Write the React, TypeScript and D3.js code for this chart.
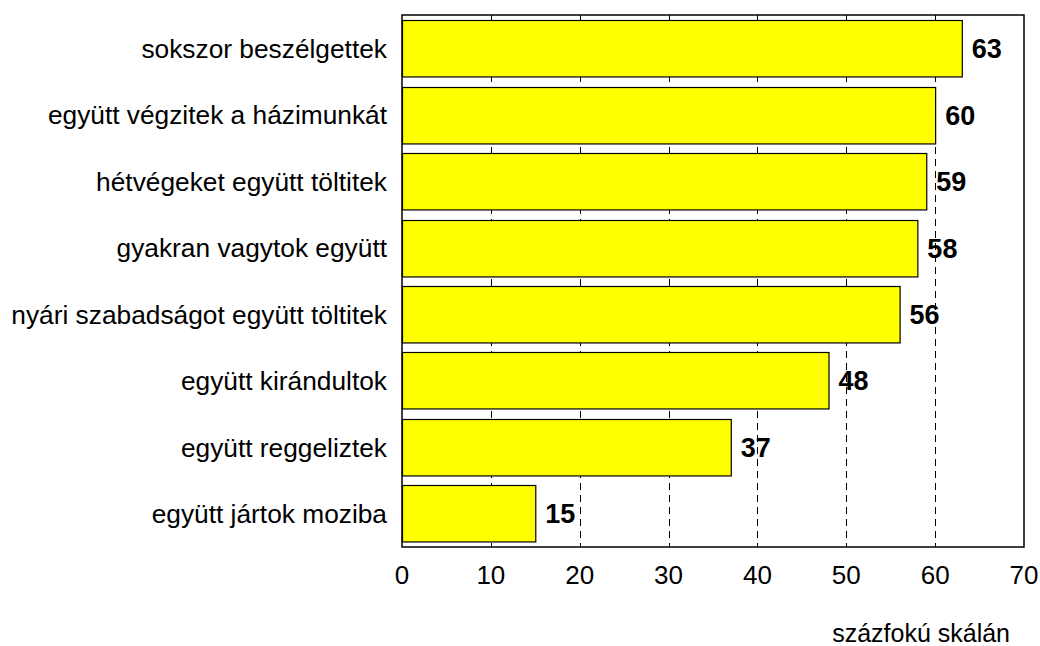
import React, { useEffect, useRef } from 'react';
import * as d3 from 'd3';

const categories = [
  'sokszor beszélgettek',
  'együtt végzitek a házimunkát',
  'hétvégeket együtt töltitek',
  'gyakran vagytok együtt',
  'nyári szabadságot együtt töltitek',
  'együtt kirándultok',
  'együtt reggeliztek',
  'együtt jártok moziba',
];
const values = [63, 60, 59, 58, 56, 48, 37, 15];
const ticks = [0, 10, 20, 30, 40, 50, 60, 70];
const axisTitle = 'százfokú skálán';

function App() {
  const svgRef = useRef<SVGSVGElement>(null);

  useEffect(() => {
    const width = 1040;
    const height = 646;
    const margin = { top: 15, right: 16, bottom: 99, left: 402 };
    const w = width - margin.left - margin.right;
    const h = height - margin.top - margin.bottom;
    const font = 'Arial, "Liberation Sans", sans-serif';

    const svg = d3.select(svgRef.current);
    svg.selectAll('*').remove();
    const g = svg.append('g').attr('transform', `translate(${margin.left},${margin.top})`);

    const x = d3.scaleLinear().domain([0, 70]).range([0, w]);
    const y = d3.scaleBand<string>().domain(categories).range([0, h])
      .paddingInner(0.15).paddingOuter(0.08);

    // gridlines
    g.selectAll('line.grid')
      .data(ticks.filter(t => t > 0 && t < 70))
      .join('line')
      .attr('class', 'grid')
      .attr('x1', d => Math.round(x(d)) + 0.5)
      .attr('x2', d => Math.round(x(d)) + 0.5)
      .attr('y1', 0)
      .attr('y2', h)
      .attr('stroke', '#000')
      .attr('stroke-width', 1)
      .attr('stroke-dasharray', '7,5');

    // bars
    g.selectAll('rect.bar')
      .data(values)
      .join('rect')
      .attr('class', 'bar')
      .attr('x', 0.5)
      .attr('y', (d, i) => Math.round(y(categories[i])!) + 0.5)
      .attr('width', d => x(d))
      .attr('height', y.bandwidth())
      .attr('fill', '#ffff00')
      .attr('stroke', '#000')
      .attr('stroke-width', 1.2);

    // value labels
    g.selectAll('text.val')
      .data(values)
      .join('text')
      .attr('class', 'val')
      .attr('x', d => x(d) + 10)
      .attr('y', (d, i) => y(categories[i])! + y.bandwidth() / 2)
      .attr('dy', '0.36em')
      .attr('font-family', font)
      .attr('font-size', 27)
      .attr('font-weight', 'bold')
      .text(d => d);

    // category labels
    g.selectAll('text.cat')
      .data(categories)
      .join('text')
      .attr('class', 'cat')
      .attr('x', -15)
      .attr('y', d => y(d)! + y.bandwidth() / 2)
      .attr('dy', '0.36em')
      .attr('text-anchor', 'end')
      .attr('font-family', font)
      .attr('font-size', 26.3)
      .text(d => d);

    // frame
    g.append('rect')
      .attr('x', 0)
      .attr('y', 0)
      .attr('width', w)
      .attr('height', h)
      .attr('fill', 'none')
      .attr('stroke', '#000')
      .attr('stroke-width', 1.5);

    // x tick labels
    g.selectAll('text.tick')
      .data(ticks)
      .join('text')
      .attr('class', 'tick')
      .attr('x', d => x(d))
      .attr('y', h + 37)
      .attr('text-anchor', 'middle')
      .attr('font-family', font)
      .attr('font-size', 26)
      .text(d => d);

    svg.append('text')
      .attr('x', 1010)
      .attr('y', 642)
      .attr('text-anchor', 'end')
      .attr('font-family', font)
      .attr('font-size', 25)
      .text(axisTitle);
  }, []);

  return (
    <svg ref={svgRef} width={1040} height={646}
      style={{ position: 'absolute', left: 0, top: 0, background: '#fff' }} />
  );
}

export default App;
